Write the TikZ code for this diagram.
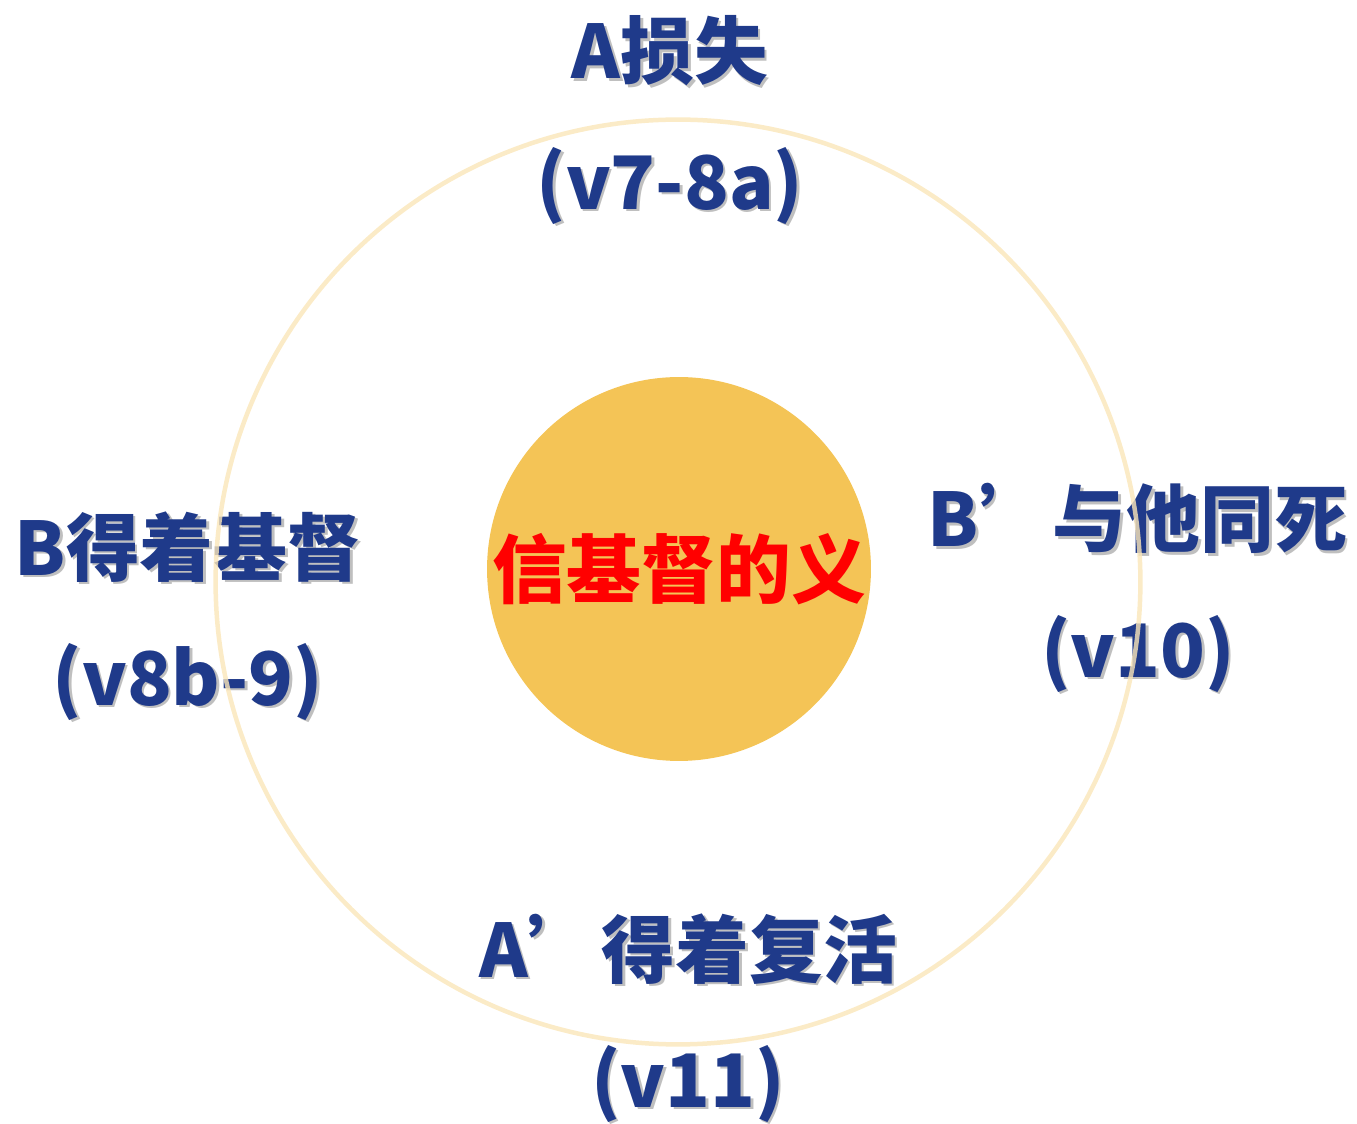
\documentclass[tikz,border=0pt]{standalone}
\usepackage{fontspec}
\setmainfont{Noto Sans CJK SC}
\usetikzlibrary{positioning}
\definecolor{labelblue}{RGB}{31,58,138}
\definecolor{ringyellow}{RGB}{250,230,185}
\definecolor{coreyellow}{RGB}{244,196,86}
\newcommand{\shadowed}[1]{\makebox[0pt][l]{\kern1.5pt\raisebox{-1.5pt}{\textcolor{black!25}{#1}}}#1}

\begin{document}
\begin{tikzpicture}[x=0.02cm, y=-0.02cm, node distance=2.7cm]
		
		% Define styles
		\tikzstyle{label} = [text=labelblue, font=\fontsize{42}{50}\selectfont\bfseries, inner sep=0pt]
		\tikzstyle{core} = [circle, fill=coreyellow, minimum size=7.68cm, inner sep=0pt, text=red, font=\fontsize{42.5}{50}\selectfont\bfseries]
		\tikzstyle{ring} = [circle, draw=ringyellow, draw opacity=0.8, line width=0.09cm, minimum size=18.5cm, inner sep=0pt]
		
		\useasboundingbox (0,0) rectangle (1357,1124);
		
		% Centre
		\node[core] (faith) at (679,569) {信基督的义};
		
		% Labels
		\node[label] (loss) at (670,52) {\shadowed{A损失}};
		\node[label, below of=loss] (lossref) {\shadowed{(v7-8a)}};
		\node[label] (gain) at (188,548) {\shadowed{B得着基督}};
		\node[label, below of=gain] (gainref) {\shadowed{(v8b-9)}};
		\node[label] (death) at (1138,520) {\shadowed{B’与他同死}};
		\node[label, below of=death] (deathref) {\shadowed{(v10)}};
		\node[label] (rise) at (688,950) {\shadowed{A’得着复活}};
		\node[label, below of=rise] (riseref) {\shadowed{(v11)}};
		
		% Ring
		\node[ring] (cycle) at (678,582) {};
		
	\end{tikzpicture}
\end{document}
